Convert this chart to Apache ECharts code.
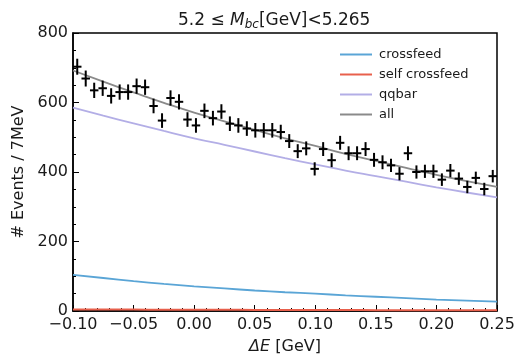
<!DOCTYPE html>
<html>
<head>
<meta charset="utf-8">
<script src="https://cdn.jsdelivr.net/npm/echarts@6/dist/echarts.min.js"></script>
<style>
  html, body { margin: 0; padding: 0; background: #fff; }
  #chart { width: 519px; height: 360px; }
</style>
</head>
<body>
<div id="chart"></div>
<script>
// bin centres (7 MeV bins) and counts
var binCenters = [-0.0965, -0.0895, -0.0825, -0.0755, -0.0685, -0.0615, -0.0545, -0.0475, -0.0405, -0.0335,
                  -0.0265, -0.0195, -0.0125, -0.0055, 0.0015, 0.0085, 0.0155, 0.0225, 0.0295, 0.0365,
                  0.0435, 0.0505, 0.0575, 0.0645, 0.0715, 0.0785, 0.0855, 0.0925, 0.0995, 0.1065,
                  0.1135, 0.1205, 0.1275, 0.1345, 0.1415, 0.1485, 0.1555, 0.1625, 0.1695, 0.1765,
                  0.1835, 0.1905, 0.1975, 0.2045, 0.2115, 0.2185, 0.2255, 0.2325, 0.2395, 0.2465];
var counts = [703, 669, 635, 641, 619, 630, 630, 647, 644, 590,
              548, 613, 602, 551, 534, 576, 555, 574, 539, 534,
              525, 520, 520, 520, 515, 489, 460, 468, 409, 466,
              434, 484, 454, 454, 466, 435, 428, 419, 395, 454,
              400, 402, 402, 378, 404, 381, 357, 383, 351, 388];
var errors = [23, 23, 22, 22, 22, 22, 22, 22, 22, 21,
              21, 22, 22, 21, 21, 21, 21, 21, 21, 21,
              21, 21, 21, 21, 21, 20, 20, 20, 19, 20,
              20, 20, 20, 20, 20, 20, 20, 19, 19, 20,
              19, 19, 19, 18, 19, 18, 18, 18, 18, 18];
var binWidth = 0.007;

// fit components sampled along ΔE
var curveX        = [-0.1, -0.075, -0.05, -0.025, 0, 0.025, 0.05, 0.075, 0.1, 0.125, 0.15, 0.175, 0.2, 0.225, 0.25];
var crossfeed     = [104, 95, 86, 78, 71, 65, 59, 54, 50, 45, 41, 37, 33, 30, 27];
var selfCrossfeed = [4, 4, 4, 3.5, 3.5, 3.5, 3, 3, 3, 3, 2.5, 2.5, 2.5, 2.5, 2.5];
var qqbar         = [585, 562, 540, 518, 497, 478, 459, 440, 422, 404, 388, 372, 356, 341, 327];
var all           = [692, 660, 629, 599, 571, 546, 521, 497, 475, 452, 432, 412, 392, 374, 357];

function pairs(xs, ys) {
    return xs.map(function (x, i) { return [x, ys[i]]; });
}

var pointData = binCenters.map(function (x, i) { return [x, counts[i], errors[i]]; });

var font = 'DejaVu Sans';
var txt = '#1a1a1a';

var chart = echarts.init(document.getElementById('chart'));

var option = {
    animation: false,
    title: {
        text: '5.2 ≤ {i|M}{s|bc}[GeV]<5.265',
        left: 173,
        top: 6,
        textStyle: {
            fontFamily: font, fontSize: 17, fontWeight: 'normal', color: txt,
            rich: {
                i: { fontFamily: font, fontSize: 17, fontStyle: 'italic', color: txt },
                s: { fontFamily: font, fontSize: 12, fontStyle: 'italic', color: txt, verticalAlign: 'bottom', padding: [8, 0, 0, 0] }
            }
        }
    },
    legend: {
        orient: 'vertical',
        left: 335,
        top: 43,
        icon: 'rect',
        itemWidth: 32,
        itemHeight: 2,
        itemGap: 7,
        textStyle: { fontFamily: font, fontSize: 13, color: txt, padding: [0, 0, 0, 2] },
        data: ['crossfeed', 'self crossfeed', 'qqbar', 'all']
    },
    grid: {
        left: 73, right: 22, top: 33, bottom: 45,
        show: true, borderColor: '#000', borderWidth: 1.5
    },
    xAxis: {
        type: 'value',
        min: -0.1, max: 0.25, interval: 0.05,
        name: '{i|ΔE} [GeV]',
        nameLocation: 'middle',
        nameGap: 28,
        nameTextStyle: {
            fontFamily: font, fontSize: 16, color: txt,
            rich: { i: { fontFamily: font, fontSize: 16, fontStyle: 'italic', color: txt } }
        },
        axisLine: { onZero: false, lineStyle: { color: '#000', width: 1.5 } },
        axisTick: { inside: true, length: 6, lineStyle: { color: '#000' } },
        minorTick: { show: true, splitNumber: 5, length: 3, lineStyle: { color: '#000' } },
        splitLine: { show: false },
        axisLabel: {
            fontFamily: font, fontSize: 16, color: txt, margin: 6,
            formatter: function (v) {
                if (Math.abs(v) < 1e-9) return '0.00';
                return v.toFixed(2).replace('-', '\u2212');
            }
        }
    },
    yAxis: {
        type: 'value',
        min: 0, max: 800, interval: 200,
        name: '# Events / 7MeV',
        nameLocation: 'middle',
        nameGap: 46,
        nameTextStyle: { fontFamily: font, fontSize: 16, color: txt },
        axisLine: { show: true, onZero: false, lineStyle: { color: '#000', width: 1.5 } },
        axisTick: { show: true, inside: true, length: 6, lineStyle: { color: '#000' } },
        minorTick: { show: true, splitNumber: 4, length: 3, lineStyle: { color: '#000' } },
        splitLine: { show: false },
        axisLabel: { fontFamily: font, fontSize: 16, color: txt, margin: 5 }
    },
    series: [
        {
            name: 'crossfeed', type: 'line', smooth: true, symbol: 'none',
            lineStyle: { color: '#5aa5d6', width: 1.8 }, itemStyle: { color: '#5aa5d6' },
            data: pairs(curveX, crossfeed)
        },
        {
            name: 'self crossfeed', type: 'line', smooth: true, symbol: 'none',
            lineStyle: { color: '#e8604c', width: 2 }, itemStyle: { color: '#e8604c' },
            data: pairs(curveX, selfCrossfeed)
        },
        {
            name: 'qqbar', type: 'line', smooth: true, symbol: 'none',
            lineStyle: { color: '#b3aee6', width: 1.8 }, itemStyle: { color: '#b3aee6' },
            data: pairs(curveX, qqbar)
        },
        {
            name: 'all', type: 'line', smooth: true, symbol: 'none',
            lineStyle: { color: '#8a8a8a', width: 1.8 }, itemStyle: { color: '#8a8a8a' },
            data: pairs(curveX, all)
        },
        {
            name: 'data', type: 'custom', z: 10,
            renderItem: function (params, api) {
                var x = api.value(0), y = api.value(1), e = api.value(2);
                var top = api.coord([x, y + e]);
                var bot = api.coord([x, y - e]);
                var l = api.coord([x - binWidth / 2, y]);
                var r = api.coord([x + binWidth / 2, y]);
                return {
                    type: 'group',
                    children: [
                        { type: 'line', shape: { x1: top[0], y1: top[1], x2: bot[0], y2: bot[1] }, style: { stroke: '#000', lineWidth: 2 } },
                        { type: 'line', shape: { x1: l[0], y1: l[1], x2: r[0], y2: r[1] }, style: { stroke: '#000', lineWidth: 2 } }
                    ]
                };
            },
            encode: { x: 0, y: 1 },
            data: pointData
        }
    ]
};

chart.setOption(option);
</script>
</body>
</html>
